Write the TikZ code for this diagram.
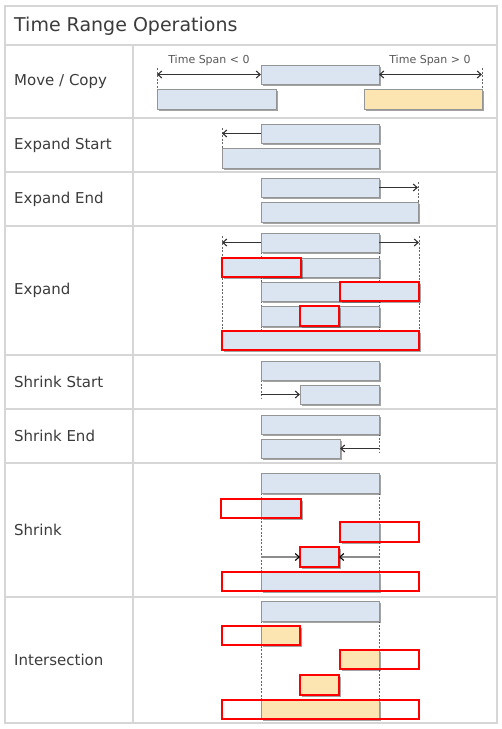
\documentclass[tikz,border=0pt]{standalone}
\usepackage{fontspec}
\setmainfont{DejaVu Sans}
\usetikzlibrary{shadows,arrows.meta}
\definecolor{barblue}{HTML}{DBE5F1}
\definecolor{barline}{HTML}{959595}
\definecolor{baryel}{HTML}{FCE5B0}
\definecolor{gridc}{HTML}{D6D6D6}
\definecolor{txtc}{HTML}{3C3C3C}
\definecolor{arrc}{HTML}{333333}
\newcommand\mybox[6]{\node[#2,minimum width={(#5-#3)*1pt},minimum height={(#6-#4)*1pt}] (#1) at (#3,#4) {};}
\tikzset{
  shad/.style={drop shadow={shadow xshift=1.6pt,shadow yshift=-1.6pt,opacity=0.45,fill=black!80}},
  basebox/.style={inner sep=0pt,outer sep=0pt,anchor=north west},
  bar/.style={basebox,draw=barline,fill=barblue,line width=1pt,shad},
  ybar/.style={basebox,draw=barline,fill=baryel,line width=1pt,shad},
  redb/.style={basebox,draw=red,fill=barblue,line width=1.9pt,shad},
  redy/.style={basebox,draw=red,fill=baryel,line width=1.9pt,shad},
  redo/.style={basebox,draw=red,line width=1.9pt},
  guide/.style={draw=black!60,line width=0.6pt,dash pattern=on 2pt off 1.5pt},
  tip/.style={},
  arr/.style={draw=arrc,line width=0.9pt,-{Straight Barb[length=4pt,width=7pt,line width=1.1pt]}},
  arrg/.style={draw=black!45,line width=1.1pt,-{Straight Barb[length=4pt,width=7pt,line width=1.1pt,color=black]}},
  darr/.style={draw=arrc,line width=0.9pt,{Straight Barb[length=4pt,width=7pt,line width=1.1pt]}-{Straight Barb[length=4pt,width=7pt,line width=1.1pt]}},
  grid/.style={draw=gridc,line width=1.6pt},
  lbl/.style={anchor=west,inner sep=0pt,text=txtc,font=\fontsize{15}{18}\selectfont},
  small/.style={inner sep=0pt,text=black!65,font=\fontsize{11}{13}\selectfont}
}
\begin{document}
\begin{tikzpicture}[x=1pt,y=-1pt]
\useasboundingbox[fill=white] (0,0) rectangle (502,729);
% table grid
\draw[grid] (5,6) rectangle (497,723);
\draw[grid] (5,45) -- (497,45);
\draw[grid] (133,45) -- (133,723);
\foreach \yy in {118,172,226,355,409,463,597} \draw[grid] (5,\yy) -- (497,\yy);
% texts
\node[anchor=west,inner sep=0pt,text=txtc,font=\fontsize{19}{23}\selectfont] (title) at (14,26) {Time Range Operations};
\node[lbl] (l1) at (14,81.5) {Move / Copy};
\node[lbl] (l2) at (14,145) {Expand Start};
\node[lbl] (l3) at (14,199) {Expand End};
\node[lbl] (l4) at (14,290.5) {Expand};
\node[lbl] (l5) at (14,382) {Shrink Start};
\node[lbl] (l6) at (14,436) {Shrink End};
\node[lbl] (l7) at (14,530) {Shrink};
\node[lbl] (l8) at (14,660) {Intersection};

% ---- Move / Copy
\node[small] (tsl) at (209,60) {Time Span < 0};
\node[small] (tsr) at (430,60) {Time Span > 0};
\draw[guide] (157,68) -- (157,89);
\draw[guide] (482,68) -- (482,89);
\mybox{mA}{bar}{261}{65}{379}{84}
\mybox{mB}{bar}{157}{89}{276}{109}
\mybox{mC}{ybar}{364}{89}{482}{109}
\coordinate (mL) at (157,74.5);
\coordinate (mR) at (482,74.5);
\draw[darr] (mL) -- (mA.west);
\draw[darr] (mA.east) -- (mR);

% ---- Expand Start
\draw[guide] (222,128) -- (222,148);
\mybox{esA}{bar}{261}{124}{379}{143}
\mybox{esB}{bar}{222}{148}{379}{168}
\coordinate (esL) at (222,133.5);
\draw[arr] (esA.west) -- (esL);

% ---- Expand End
\draw[guide] (418,182) -- (418,202);
\mybox{eeA}{bar}{261}{178}{379}{197}
\mybox{eeB}{bar}{261}{202}{418}{222}
\coordinate (eeR) at (418,187.5);
\draw[arr] (eeA.east) -- (eeR);

% ---- Expand
\draw[guide] (222,236) -- (222,331);
\draw[guide] (419,236) -- (419,331);
\draw[guide] (261,252) -- (261,331);
\draw[guide] (379,252) -- (379,331);
\mybox{eA}{bar}{261}{233}{379}{252}
\coordinate (eL) at (222,242.5);
\coordinate (eR) at (419,242.5);
\draw[arr] (eA.west) -- (eL);
\draw[arr] (eA.east) -- (eR);
\mybox{eB}{bar}{261}{258}{379}{277}
\mybox{eBr}{redb}{222}{258}{301}{277}
\mybox{eC}{bar}{261}{282}{379}{301}
\mybox{eCr}{redb}{340}{282}{419}{301}
\mybox{eD}{bar}{261}{306}{379}{326}
\mybox{eDr}{redb}{300}{306}{339}{326}
\mybox{eE}{redb}{222}{331}{419}{350}

% ---- Shrink Start
\draw[guide] (261,380) -- (261,398);
\mybox{ssA}{bar}{261}{361}{379}{380}
\mybox{ssB}{bar}{300}{385}{379}{404}
\coordinate (ssL) at (261,394.5);
\draw[arr] (ssL) -- (ssB.west);

% ---- Shrink End
\draw[guide] (379,434) -- (379,452);
\mybox{seA}{bar}{261}{415}{379}{434}
\mybox{seB}{bar}{261}{439}{340}{458}
\coordinate (seR) at (379,448.5);
\draw[arr] (seR) -- (seB.east);

% ---- Shrink
\draw[guide] (261,493) -- (261,591);
\draw[guide] (379,493) -- (379,591);
\mybox{sA}{bar}{261}{473}{379}{493}
\mybox{sB}{bar}{261}{499}{301}{518}
\mybox{sBr}{redo}{221}{499}{301}{518}
\mybox{sC}{bar}{340}{522}{379}{542}
\mybox{sCr}{redo}{340}{522}{419}{542}
\mybox{sD}{redb}{300}{547}{339}{567}
\coordinate (sL) at (261,557);
\coordinate (sR) at (379,557);
\draw[arrg] (sL) -- (sD.west);
\draw[arrg] (sR) -- (sD.east);
\mybox{sE}{bar}{261}{572}{379}{591}
\mybox{sEr}{redo}{222}{572}{419}{591}

% ---- Intersection
\draw[guide] (261,621) -- (261,719);
\draw[guide] (379,621) -- (379,719);
\mybox{iA}{bar}{261}{601}{379}{621}
\mybox{iB}{ybar}{261}{626}{300}{645}
\mybox{iBr}{redo}{222}{626}{300}{645}
\mybox{iC}{ybar}{340}{650}{379}{669}
\mybox{iCr}{redo}{340}{650}{419}{669}
\mybox{iD}{redy}{300}{675}{339}{695}
\mybox{iE}{ybar}{261}{700}{379}{719}
\mybox{iEr}{redo}{222}{700}{419}{719}
\end{tikzpicture}
\end{document}
